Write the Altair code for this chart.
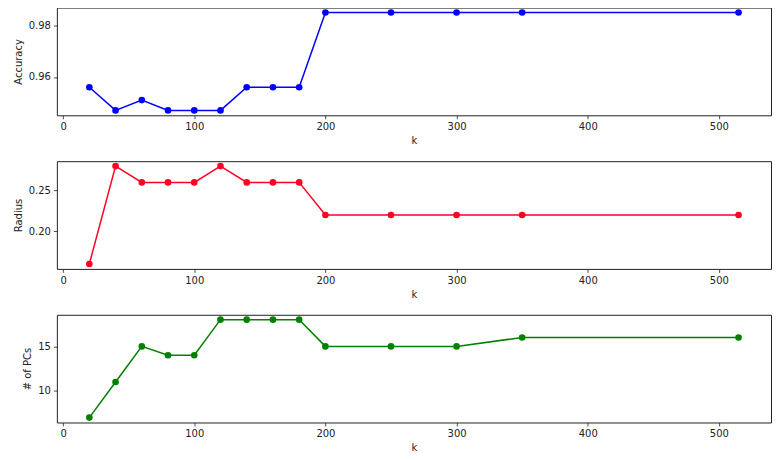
import altair as alt
import pandas as pd

k = [20, 40, 60, 80, 100, 120, 140, 160, 180, 200, 250, 300, 350, 515]
accuracy = [0.956, 0.947, 0.951, 0.947, 0.947, 0.947, 0.956, 0.956, 0.956,
            0.985, 0.985, 0.985, 0.985, 0.985]
radius = [0.16, 0.28, 0.26, 0.26, 0.26, 0.28, 0.26, 0.26, 0.26,
          0.22, 0.22, 0.22, 0.22, 0.22]
pcs = [7, 11, 15, 14, 14, 18, 18, 18, 18, 15, 15, 15, 16, 16]

df = pd.DataFrame({"k": k, "Accuracy": accuracy, "Radius": radius, "PCs": pcs})

W, H = 716, 108
FONT = "DejaVu Sans"


def panel(field, title, color, domain, ticks, fmt):
    base = alt.Chart(df)
    x = alt.X("k:Q", title="k", scale=alt.Scale(domain=[-4.75, 539.75], nice=False, zero=False),
              axis=alt.Axis(values=[0, 100, 200, 300, 400, 500], format="d"))
    y = alt.Y(f"{field}:Q", title=title,
              scale=alt.Scale(domain=domain, nice=False, zero=False),
              axis=alt.Axis(values=ticks, format=fmt))
    line = base.mark_line(color=color, strokeWidth=1.5).encode(x=x, y=y)
    pts = base.mark_circle(color=color, size=44, opacity=1).encode(x=x, y=y)
    return (line + pts).properties(width=W, height=H)


c1 = panel("Accuracy", "Accuracy", "#0000ff", [0.9451, 0.9869], [0.96, 0.98], ".2f")
c2 = panel("Radius", "Radius", "#ff0022", [0.154, 0.286], [0.20, 0.25], ".2f")
c3 = panel("PCs", "# of PCs", "#008000", [6.45, 18.55], [10, 15], "d")

chart = alt.vconcat(c1, c2, c3, spacing=46, bounds="flush").properties(
    padding={"left": 4, "top": -2, "right": 0, "bottom": 0}
).configure_view(
    stroke="#222222", strokeWidth=1
).configure_axis(
    grid=False, domain=False,
    tickColor="#222222", tickSize=3.5, tickWidth=0.8,
    labelFont=FONT, labelFontSize=10, labelColor="#222222", labelPadding=3,
    titleFont=FONT, titleFontSize=10, titleFontWeight="normal", titleColor="#222222",
    titlePadding=5,
).configure_axisX(titlePadding=4)

chart.save("out.html", embed_options={"renderer": "svg", "actions": False})
